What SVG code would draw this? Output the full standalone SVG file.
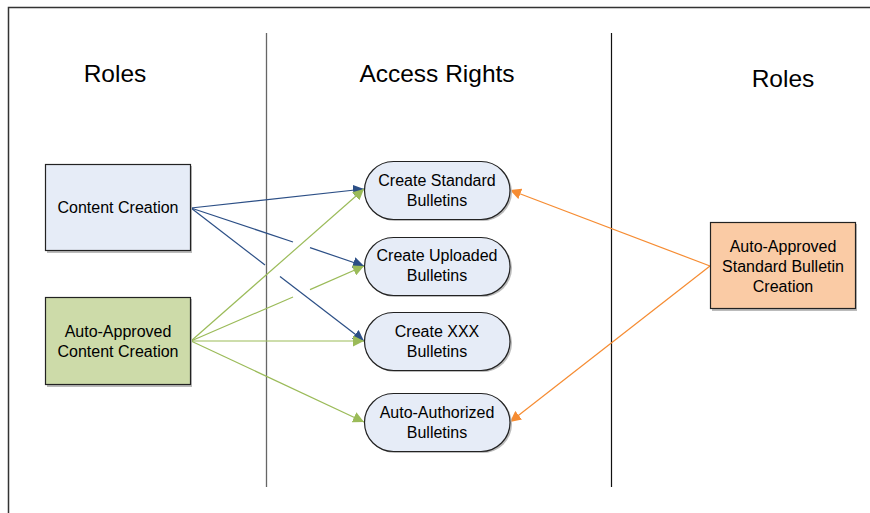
<svg xmlns="http://www.w3.org/2000/svg" width="870" height="513" viewBox="0 0 870 513">
<defs>
<style>
.t{font-family:"Liberation Sans",Arial,sans-serif;fill:#000;text-anchor:middle}
.h{font-size:24.5px}
.n{font-size:16px}
.box{stroke:#222;stroke-width:1.2}
.sh{fill:#bbb}
.blue{stroke:#2c4f86;stroke-width:1.2;fill:none}
.green{stroke:#9bbb59;stroke-width:1.2;fill:none}
.orange{stroke:#f68c32;stroke-width:1.2;fill:none}
</style>
<marker id="ab" viewBox="0 0 10 10" refX="10" refY="5" markerWidth="11" markerHeight="11" markerUnits="userSpaceOnUse" orient="auto"><path d="M0,0L10,5L0,10z" fill="#2c4f86"/></marker>
<marker id="ag" viewBox="0 0 10 10" refX="10" refY="5" markerWidth="11" markerHeight="11" markerUnits="userSpaceOnUse" orient="auto"><path d="M0,0L10,5L0,10z" fill="#9bbb59"/></marker>
<marker id="ao" viewBox="0 0 10 10" refX="10" refY="5" markerWidth="11" markerHeight="11" markerUnits="userSpaceOnUse" orient="auto"><path d="M0,0L10,5L0,10z" fill="#f68c32"/></marker>
</defs>
<rect width="870" height="513" fill="#fff"/>
<g id="frame">
<path d="M8.5,513V7.5H870" fill="none" stroke="#333" stroke-width="1.5"/>
<line x1="266.5" y1="33" x2="266.5" y2="487" stroke="#666" stroke-width="1.3"/>
<line x1="611.5" y1="33" x2="611.5" y2="487" stroke="#111" stroke-width="1.2"/>
</g>
<g id="titles">
<text class="t h" x="115" y="82">Roles</text>
<text class="t h" x="437" y="82">Access Rights</text>
<text class="t h" x="783" y="87">Roles</text>
</g>
<g id="connectors">
<line class="blue" x1="191" y1="208" x2="364" y2="189" marker-end="url(#ab)"/>
<polyline class="blue" points="191,208 293,242"/>
<line class="blue" x1="310" y1="247.6" x2="364" y2="266" marker-end="url(#ab)"/>
<polyline class="blue" points="191,208 265,265"/>
<line class="blue" x1="280" y1="276.5" x2="364" y2="341" marker-end="url(#ab)"/>
<line class="green" x1="191" y1="341" x2="364" y2="189" marker-end="url(#ag)"/>
<polyline class="green" points="191,341 293,297"/>
<line class="green" x1="310" y1="289.6" x2="364" y2="266" marker-end="url(#ag)"/>
<line class="green" x1="191" y1="341" x2="364" y2="341" marker-end="url(#ag)"/>
<line class="green" x1="191" y1="341" x2="364" y2="422" marker-end="url(#ag)"/>
<line class="orange" x1="710" y1="266" x2="510" y2="190" marker-end="url(#ao)"/>
<line class="orange" x1="710" y1="266" x2="510" y2="422" marker-end="url(#ao)"/>
</g>
<g id="content-creation">
<rect class="sh" x="47" y="166" width="145" height="87"/>
<rect class="box" x="45.5" y="164.5" width="145" height="86" fill="#e6ecf7"/>
<text class="t n" x="118" y="213">Content Creation</text>
</g>
<g id="auto-approved-content-creation">
<rect class="sh" x="47" y="299" width="145" height="88"/>
<rect class="box" x="45.5" y="297.5" width="145" height="87" fill="#cddba9"/>
<text class="t n" x="118" y="337">Auto-Approved</text>
<text class="t n" x="118" y="357">Content Creation</text>
</g>
<g id="auto-approved-standard-bulletin-creation">
<rect class="sh" x="712" y="224" width="145" height="87"/>
<rect class="box" x="710.5" y="222.5" width="145" height="86" fill="#facba5"/>
<text class="t n" x="783" y="252">Auto-Approved</text>
<text class="t n" x="783" y="272">Standard Bulletin</text>
<text class="t n" x="783" y="292">Creation</text>
</g>
<g id="create-standard-bulletins">
<rect class="sh" x="366" y="163" width="146" height="58" rx="29"/>
<rect class="box" x="364.5" y="161.5" width="145.5" height="58" rx="29" fill="#e6ecf7"/>
<text class="t n" x="437" y="186">Create Standard</text>
<text class="t n" x="437" y="206">Bulletins</text>
</g>
<g id="create-uploaded-bulletins">
<rect class="sh" x="366" y="239" width="146" height="58" rx="29"/>
<rect class="box" x="364.5" y="237.5" width="145.5" height="58" rx="29" fill="#e6ecf7"/>
<text class="t n" x="437" y="261">Create Uploaded</text>
<text class="t n" x="437" y="281">Bulletins</text>
</g>
<g id="create-xxx-bulletins">
<rect class="sh" x="366" y="314" width="146" height="58" rx="29"/>
<rect class="box" x="364.5" y="312.5" width="145.5" height="58" rx="29" fill="#e6ecf7"/>
<text class="t n" x="437" y="337">Create XXX</text>
<text class="t n" x="437" y="357">Bulletins</text>
</g>
<g id="auto-authorized-bulletins">
<rect class="sh" x="366" y="395" width="146" height="58" rx="29"/>
<rect class="box" x="364.5" y="393.5" width="145.5" height="58" rx="29" fill="#e6ecf7"/>
<text class="t n" x="437" y="418">Auto-Authorized</text>
<text class="t n" x="437" y="438">Bulletins</text>
</g>
</svg>
